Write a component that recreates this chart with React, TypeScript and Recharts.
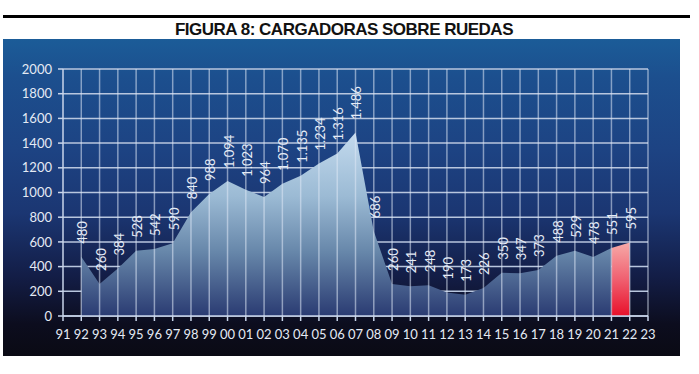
import React from 'react';
import { AreaChart, Area, XAxis, YAxis, CartesianGrid, LabelList, ReferenceLine } from 'recharts';

const years = ['91','92','93','94','95','96','97','98','99','00','01','02','03','04','05','06','07','08','09','10','11','12','13','14','15','16','17','18','19','20','21','22','23'];
const units: (number | null)[] = [null,480,260,384,528,542,590,840,988,1094,1023,964,1070,1135,1234,1316,1486,686,260,241,248,190,173,226,350,347,373,488,529,478,551,null,null];
const latest: (number | null)[] = [null,null,null,null,null,null,null,null,null,null,null,null,null,null,null,null,null,null,null,null,null,null,null,null,null,null,null,null,null,null,551,595,null];
const yTicks = [0,200,400,600,800,1000,1200,1400,1600,1800,2000];
const title = 'FIGURA 8: CARGADORAS SOBRE RUEDAS';

const data = years.map((y, i) => ({ year: y, units: units[i], latest: latest[i] }));

const fmt = (v: number) => {
  if (v >= 1000) {
    const s = String(v);
    return s.slice(0, s.length - 3) + '.' + s.slice(s.length - 3);
  }
  return String(v);
};

const makeLabel = (onlyIndex?: number) => (props: any) => {
  const { x, y, value, index } = props;
  if (value === null || value === undefined) return null;
  if (onlyIndex !== undefined && index !== onlyIndex) return null;
  const cx = x + 1;
  const cy = y - 13;
  return (
    <text
      x={cx}
      y={cy}
      transform={`rotate(-90, ${cx}, ${cy})`}
      textAnchor="start"
      dominantBaseline="central"
      fill="#e6ecf6"
      fontSize={13}
      fontFamily="Lato, 'Open Sans', sans-serif"
    >
      {fmt(value)}
    </text>
  );
};

const axisColor = '#c9d5ea';
const tickStyle = { fill: '#e4eaf4', fontSize: 13, fontFamily: "Lato, 'Open Sans', sans-serif" };
const chartMargin = { top: 69, right: 51, bottom: 28, left: 13 };
const vGridColor = 'rgba(222,232,246,0.55)';

export default function App() {
  return (
    <div style={{ position: 'absolute', left: 0, top: 0, width: 699, height: 374, background: '#ffffff', overflow: 'hidden' }}>
      <div style={{ position: 'absolute', left: 3, top: 15, width: 687, height: 3, background: '#000' }} />
      <div
        style={{
          position: 'absolute', left: 0, top: 20, width: 688, textAlign: 'center',
          fontFamily: "'Liberation Sans', Arial, sans-serif", fontWeight: 'bold', fontSize: 17,
          color: '#111', lineHeight: '19px', letterSpacing: '-0.5px',
        }}
      >
        {title}
      </div>
      <div
        style={{
          position: 'absolute', left: 3, top: 39, width: 677, height: 317,
          background: 'linear-gradient(to bottom, #1b5c98 0%, #1c4f8e 12%, #1d4383 35%, #1b3672 55%, #131d46 75%, #0c0d1e 90%, #0a0a14 100%)',
        }}
      />
      <div style={{ position: 'absolute', left: 0, top: 0 }}>
        <AreaChart width={699} height={374} data={data} margin={chartMargin}>
          <defs>
            <linearGradient id="blueFill" x1="0" y1="0" x2="0" y2="1">
              <stop offset="0%" stopColor="#c3daee" />
              <stop offset="35%" stopColor="#9bbad4" />
              <stop offset="65%" stopColor="#6787aa" />
              <stop offset="100%" stopColor="#2a3b72" />
            </linearGradient>
            <linearGradient id="redFill" x1="0" y1="0" x2="0" y2="1">
              <stop offset="0%" stopColor="#f6aaa8" />
              <stop offset="50%" stopColor="#f06070" />
              <stop offset="100%" stopColor="#e8102a" />
            </linearGradient>
          </defs>
          <CartesianGrid vertical={false} stroke="#b8c6de" strokeWidth={1.5} />
          <XAxis
            dataKey="year"
            stroke={axisColor}
            strokeWidth={1.5}
            tickSize={5}
            tickMargin={9}
            tick={tickStyle}
            interval={0}
            height={30}
          />
          <YAxis
            domain={[0, 2000]}
            ticks={yTicks}
            stroke={axisColor}
            strokeWidth={1.5}
            tickSize={5}
            tickMargin={6}
            tick={tickStyle}
            width={50}
            interval={0}
          />
          <Area
            type="linear"
            dataKey="units"
            stroke="none"
            fill="url(#blueFill)"
            fillOpacity={1}
            isAnimationActive={false}
            connectNulls={false}
            dot={false}
            activeDot={false}
          >
            <LabelList dataKey="units" content={makeLabel()} />
          </Area>
          <Area
            type="linear"
            dataKey="latest"
            stroke="none"
            fill="url(#redFill)"
            fillOpacity={1}
            isAnimationActive={false}
            connectNulls={false}
            dot={false}
            activeDot={false}
          >
            <LabelList dataKey="latest" content={makeLabel(31)} />
          </Area>
        </AreaChart>
      </div>
      <div style={{ position: 'absolute', left: 0, top: 0, pointerEvents: 'none' }}>
        <AreaChart width={699} height={374} data={data} margin={chartMargin}>
          <XAxis dataKey="year" height={30} tick={false} axisLine={false} tickLine={false} interval={0} />
          <YAxis domain={[0, 2000]} ticks={yTicks} width={50} tick={false} axisLine={false} tickLine={false} />
          <Area type="linear" dataKey="units" stroke="none" fill="none" isAnimationActive={false} dot={false} activeDot={false} />
          {years.slice(1).map((yr) => (
            <ReferenceLine key={yr} x={yr} stroke={vGridColor} strokeWidth={1.5} />
          ))}
        </AreaChart>
      </div>
    </div>
  );
}
